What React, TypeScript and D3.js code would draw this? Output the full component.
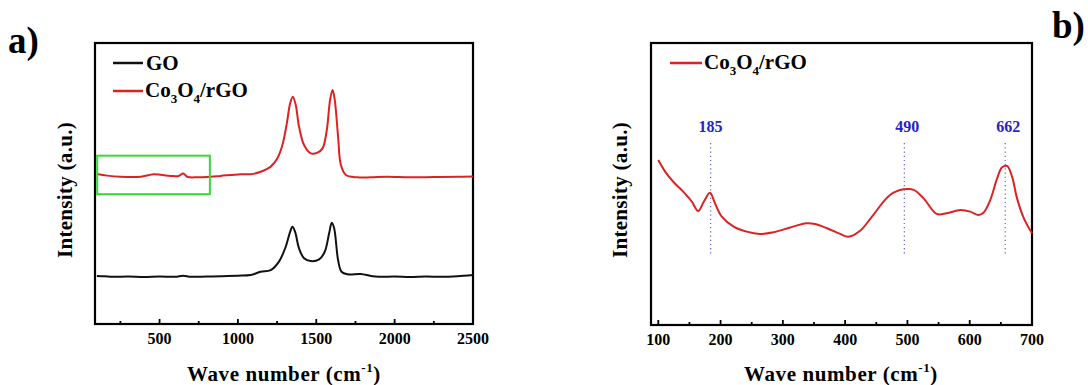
import React from "react";
import * as d3 from "d3";

const W = 1088;
const H = 385;

// Raman spectra (wave number, intensity a.u. on 0-100)
const goData: [number, number][] = [
  [100, 17.1], [150, 17.0], [200, 16.8], [300, 16.9], [400, 16.7], [500, 16.9],
  [600, 16.8], [650, 17.2], [700, 16.8], [800, 16.9], [900, 17.0], [1000, 17.2],
  [1081, 17.4], [1145, 18.6], [1209, 19.2], [1262, 22.2], [1305, 27.5], [1333, 32.8],
  [1348, 34.6], [1365, 32.8], [1390, 26.9], [1422, 23.4], [1465, 22.4], [1518, 23.0],
  [1554, 25.7], [1582, 32.3], [1599, 36.0], [1614, 34.1], [1639, 22.8], [1661, 18.6],
  [1699, 17.7], [1784, 17.8], [1848, 17.1], [1900, 16.8], [2000, 16.9], [2100, 16.7],
  [2200, 16.9], [2300, 16.8], [2400, 17.0], [2500, 17.4],
];

const rgoData: [number, number][] = [
  [100, 53.4], [166, 52.8], [251, 52.4], [379, 52.4], [464, 53.3], [570, 52.7],
  [623, 52.7], [651, 53.6], [677, 52.4], [741, 52.2], [826, 52.4], [890, 52.7],
  [1018, 53.3], [1081, 53.3], [1145, 54.2], [1209, 56.0], [1252, 59.0], [1284, 63.7],
  [1312, 71.4], [1333, 78.5], [1350, 80.9], [1369, 77.9], [1390, 70.2], [1422, 63.7],
  [1465, 60.7], [1508, 61.0], [1540, 62.5], [1567, 69.0], [1588, 79.7], [1604, 83.3],
  [1618, 79.7], [1639, 66.7], [1657, 56.6], [1689, 53.0], [1763, 52.2], [1848, 52.2],
  [1950, 52.4], [2100, 52.2], [2250, 52.3], [2400, 52.4], [2500, 52.5],
];

const rgoLowData: [number, number][] = [
  [100, 58.5], [111, 54.4], [124, 50.8], [140, 47.3], [154, 43.7], [164, 40.4],
  [173, 43.7], [183, 46.9], [191, 43.2], [202, 38.4], [221, 34.9], [242, 33.1],
  [263, 32.3], [285, 32.9], [312, 34.6], [338, 36.1], [352, 35.8], [371, 34.3],
  [392, 32.3], [405, 31.3], [424, 33.4], [445, 39.0], [472, 46.1], [494, 48.1],
  [510, 47.9], [526, 44.9], [547, 39.4], [563, 39.6], [585, 40.8], [601, 40.2],
  [614, 39.0], [622, 39.8], [633, 44.3], [644, 52.0], [652, 55.9], [660, 56.4],
  [668, 52.6], [676, 44.9], [687, 37.8], [700, 32.5],
];

const aTicks = [500, 1000, 1500, 2000, 2500];
const aMinor = [250, 750, 1250, 1750, 2250];
const bTicks = [100, 200, 300, 400, 500, 600, 700];
const bMinor = [150, 250, 350, 450, 550, 650];

const peakAt = [184, 495, 657];
const peakText = ["185", "490", "662"];

// low-wavenumber region highlighted in panel a
const boxX = [102, 821];
const boxY = [46.2, 59.9];

const RED = "#dc2222";
const BLUE = "#2424c4";
const FONT = "'Liberation Serif', 'Times New Roman', serif";

export default function App() {
  const xA = d3.scaleLinear().domain([88, 2500]).range([95, 473]);
  const yA = d3.scaleLinear().domain([0, 100]).range([324, 43]);
  const xB = d3.scaleLinear().domain([88.3, 700]).range([651, 1032]);
  const yB = d3.scaleLinear().domain([0, 100]).range([325, 43]);

  const lineA = d3.line<[number, number]>()
    .x(d => xA(d[0])).y(d => yA(d[1]))
    .curve(d3.curveCatmullRom.alpha(0.5));
  const lineB = d3.line<[number, number]>()
    .x(d => xB(d[0])).y(d => yB(d[1]))
    .curve(d3.curveCatmullRom.alpha(0.5));

  const frame = (x: d3.ScaleLinear<number, number>, y: d3.ScaleLinear<number, number>) => {
    const [x0, x1] = x.range();
    const [y1, y0] = y.range();
    return <rect x={x0} y={y0} width={x1 - x0} height={y1 - y0} fill="none" stroke="#000" strokeWidth={2.2} />;
  };

  const ticks = (x: d3.ScaleLinear<number, number>, y: d3.ScaleLinear<number, number>, major: number[], minor: number[]) => {
    const yb = y.range()[0];
    return (
      <g>
        {major.map(t => (
          <g key={"M" + t}>
            <line x1={x(t)} x2={x(t)} y1={yb} y2={yb - 5} stroke="#000" strokeWidth={1.8} />
            <text x={x(t)} y={yb + 20} textAnchor="middle" fontSize={16} fontWeight="bold">{t}</text>
          </g>
        ))}
        {minor.map(t => (
          <line key={"m" + t} x1={x(t)} x2={x(t)} y1={yb} y2={yb - 3} stroke="#000" strokeWidth={1.8} />
        ))}
      </g>
    );
  };

  const xTitle = (cx: number) => (
    <text x={cx} y={381} textAnchor="middle" fontSize={21} fontWeight="bold" letterSpacing={0.6}>
      Wave number (cm<tspan fontSize={13} dy={-9}>-1</tspan><tspan dy={9}>)</tspan>
    </text>
  );

  const yTitle = (cx: number, cy: number) => (
    <text transform={`translate(${cx},${cy}) rotate(-90)`} textAnchor="middle" fontSize={21} fontWeight="bold" letterSpacing={0.3}>
      Intensity (a.u.)
    </text>
  );

  const coLabel = (x: number, y: number) => (
    <text x={x} y={y} fontSize={21} fontWeight="bold">
      Co<tspan fontSize={13} dy={6}>3</tspan><tspan dy={-6}>O</tspan><tspan fontSize={13} dy={6}>4</tspan><tspan dy={-6}>/rGO</tspan>
    </text>
  );

  return (
    <svg width={W} height={H} style={{ position: "absolute", left: 0, top: 0, fontFamily: FONT }}>
      <rect width={W} height={H} fill="#fff" />

      {/* panel a */}
      <text x={8} y={53} fontSize={37} fontWeight="bold">a)</text>
      {frame(xA, yA)}
      {ticks(xA, yA, aTicks, aMinor)}
      <path d={lineA(goData) ?? ""} fill="none" stroke="#111" strokeWidth={2} />
      <path d={lineA(rgoData) ?? ""} fill="none" stroke={RED} strokeWidth={2} />
      <rect x={xA(boxX[0])} y={yA(boxY[1])} width={xA(boxX[1]) - xA(boxX[0])} height={yA(boxY[0]) - yA(boxY[1])}
        fill="none" stroke="#33dd33" strokeWidth={2} />
      <line x1={113} x2={143} y1={63} y2={63} stroke="#111" strokeWidth={2.5} />
      <text x={146} y={70} fontSize={21} fontWeight="bold">GO</text>
      <line x1={113} x2={143} y1={91} y2={91} stroke={RED} strokeWidth={2.5} />
      {coLabel(145, 97)}
      {yTitle(72, 190)}
      {xTitle(284)}

      {/* panel b */}
      <text x={1052} y={38} fontSize={37} fontWeight="bold">b)</text>
      {frame(xB, yB)}
      {ticks(xB, yB, bTicks, bMinor)}
      {peakAt.map((p, i) => (
        <g key={p}>
          <line x1={xB(p)} x2={xB(p)} y1={yB(64.5)} y2={yB(24.8)} stroke="#6262cc" strokeWidth={1.2} strokeDasharray="1.2,3" />
          <text x={xB(p) + (i === 0 ? 0 : 3)} y={yB(68.4)} textAnchor="middle" fontSize={16} fontWeight="bold" fill={BLUE}>{peakText[i]}</text>
        </g>
      ))}
      <path d={lineB(rgoLowData) ?? ""} fill="none" stroke={RED} strokeWidth={2} />
      <line x1={670} x2={702} y1={63} y2={63} stroke={RED} strokeWidth={2.5} />
      {coLabel(704, 69)}
      {yTitle(627, 190)}
      {xTitle(841)}
    </svg>
  );
}
